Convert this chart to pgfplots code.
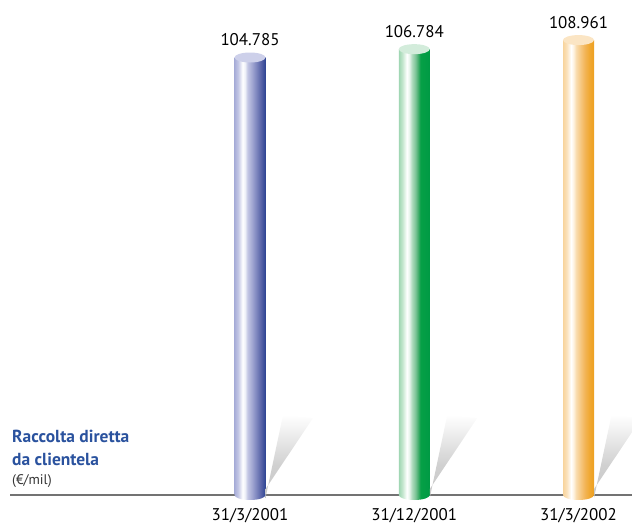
\documentclass[border=0pt]{standalone}
\usepackage{fontspec}
\setmainfont{PT Sans}
\usepackage{pgfplots}
\pgfplotsset{compat=1.18}

% colours of the three cylinders (left edge -> highlight -> dark right edge)
\definecolor{b0}{HTML}{A8AED8}\definecolor{b1}{HTML}{C4C8E6}\definecolor{b2}{HTML}{FFFFFF}
\definecolor{b3}{HTML}{EEF0F8}\definecolor{b4}{HTML}{C3C6E4}\definecolor{b5}{HTML}{A3A8D3}
\definecolor{b6}{HTML}{7F87BF}\definecolor{b7}{HTML}{5964A8}\definecolor{b8}{HTML}{2D4393}
\definecolor{g0}{HTML}{9FD6B2}\definecolor{g1}{HTML}{C4E6CE}\definecolor{g2}{HTML}{FFFFFF}
\definecolor{g3}{HTML}{E8F4EC}\definecolor{g4}{HTML}{B2DCC0}\definecolor{g5}{HTML}{7CC496}
\definecolor{g6}{HTML}{3AAA66}\definecolor{g7}{HTML}{06A046}\definecolor{g8}{HTML}{009A44}
\definecolor{o0}{HTML}{F8D49C}\definecolor{o1}{HTML}{FBE2BC}\definecolor{o2}{HTML}{FFFFFF}
\definecolor{o3}{HTML}{FEF2E0}\definecolor{o4}{HTML}{F9DDB0}\definecolor{o5}{HTML}{F6C882}
\definecolor{o6}{HTML}{F2B558}\definecolor{o7}{HTML}{F0A832}\definecolor{o8}{HTML}{EDA020}
\definecolor{capblue}{HTML}{CDD0EA}
\definecolor{capgreen}{HTML}{D3ECDB}
\definecolor{caporange}{HTML}{FBE5C4}
\definecolor{titleblue}{HTML}{2A529E}
\definecolor{shadowgray}{HTML}{C8C8C8}

\pgfdeclarehorizontalshading{cylblue}{100bp}{color(0bp)=(b0); color(25bp)=(b0);
  color(31bp)=(b1); color(38bp)=(b2); color(42bp)=(b3); color(46bp)=(b4);
  color(53bp)=(b5); color(60bp)=(b6); color(67.5bp)=(b7); color(75bp)=(b8); color(100bp)=(b8)}
\pgfdeclarehorizontalshading{cylgreen}{100bp}{color(0bp)=(g0); color(25bp)=(g0);
  color(31bp)=(g1); color(38bp)=(g2); color(42bp)=(g3); color(46bp)=(g4);
  color(52bp)=(g5); color(57bp)=(g6); color(60bp)=(g7); color(75bp)=(g8); color(100bp)=(g8)}
\pgfdeclarehorizontalshading{cylorange}{100bp}{color(0bp)=(o0); color(25bp)=(o0);
  color(31bp)=(o1); color(38bp)=(o2); color(42bp)=(o3); color(46bp)=(o4);
  color(53bp)=(o5); color(60bp)=(o6); color(67.5bp)=(o7); color(75bp)=(o8); color(100bp)=(o8)}
\pgfdeclareverticalshading{shadowfade}{100bp}{color(0bp)=(shadowgray); color(25bp)=(shadowgray);
  color(45bp)=(shadowgray!85); color(75bp)=(white); color(100bp)=(white)}

% cylinder parts drawn as plot marks at the data points
\newcommand\cylellipse{\pgfpathellipse{\pgfpointorigin}{\pgfpoint{15.5bp}{0bp}}{\pgfpoint{0bp}{5bp}}}
\pgfdeclareplotmark{cylshadow}{%
  \pgfpathmoveto{\pgfpoint{15.5bp}{-3bp}}%
  \pgfpathlineto{\pgfpoint{33bp}{80bp}}%
  \pgfpathlineto{\pgfpoint{63bp}{77bp}}%
  \pgfpathlineto{\pgfpoint{15.5bp}{6bp}}%
  \pgfpathclose
  \pgfshadepath{shadowfade}{0}\pgfusepath{discard}}
\pgfdeclareplotmark{botblue}{\cylellipse\pgfshadepath{cylblue}{0}\pgfusepath{discard}}
\pgfdeclareplotmark{botgreen}{\cylellipse\pgfshadepath{cylgreen}{0}\pgfusepath{discard}}
\pgfdeclareplotmark{botorange}{\cylellipse\pgfshadepath{cylorange}{0}\pgfusepath{discard}}
\pgfdeclareplotmark{topblue}{\pgfsetfillcolor{capblue}\cylellipse\pgfusepath{fill}}
\pgfdeclareplotmark{topgreen}{\pgfsetfillcolor{capgreen}\cylellipse\pgfusepath{fill}}
\pgfdeclareplotmark{toporange}{\pgfsetfillcolor{caporange}\cylellipse\pgfusepath{fill}}

\begin{document}
\begin{tikzpicture}
\begin{axis}[
  at={(0,0)}, anchor=south west,
  scale only axis, width=622bp, height=495bp,
  xmin=-1.4612, xmax=2.3257, ymin=0, ymax=118.56,
  axis x line*=bottom, axis y line=none,
  axis line style={draw=black!55, line width=1.2bp},
  xtick={0,1,2},
  xticklabels={31/3/2001,31/12/2001,31/3/2002},
  major tick length=0pt,
  xticklabel style={anchor=base, inner sep=0pt, yshift=-25bp,
    font=\fontsize{17}{17}\selectfont},
  clip=false,
  /pgf/number format/assume math mode=true,
  every node near coord/.append style={anchor=base, inner sep=0pt, yshift=12bp,
    font=\fontsize{17}{17}\selectfont, text=black},
]
% shadows cast behind the cylinders
\addplot[only marks, mark=cylshadow] coordinates {(0,0) (1,0) (2,0)};
% cylinder bodies
\addplot[ybar, bar width=31bp, bar shift=0pt, draw=none, shade, shading=cylblue]
  coordinates {(0,104.785)};
\addplot[ybar, bar width=31bp, bar shift=0pt, draw=none, shade, shading=cylgreen]
  coordinates {(1,106.784)};
\addplot[ybar, bar width=31bp, bar shift=0pt, draw=none, shade, shading=cylorange]
  coordinates {(2,108.961)};
% rounded bottoms
\addplot[only marks, mark=botblue] coordinates {(0,0)};
\addplot[only marks, mark=botgreen] coordinates {(1,0)};
\addplot[only marks, mark=botorange] coordinates {(2,0)};
% caps, with the values above them
\addplot[only marks, mark=topblue,
  nodes near coords={\pgfmathprintnumber[fixed,fixed zerofill,precision=3]{\pgfplotspointmeta}}]
  coordinates {(0,104.785)};
\addplot[only marks, mark=topgreen,
  nodes near coords={\pgfmathprintnumber[fixed,fixed zerofill,precision=3]{\pgfplotspointmeta}}]
  coordinates {(1,106.784)};
\addplot[only marks, mark=toporange,
  nodes near coords={\pgfmathprintnumber[fixed,fixed zerofill,precision=3]{\pgfplotspointmeta}}]
  coordinates {(2,108.961)};
\end{axis}
\node[anchor=base west, inner sep=0pt, text=titleblue,
  font=\bfseries\fontsize{17.5}{17.5}\selectfont] at (2bp,52bp) {Raccolta diretta};
\node[anchor=base west, inner sep=0pt, text=titleblue,
  font=\bfseries\fontsize{17.5}{17.5}\selectfont] at (2bp,30bp) {da clientela};
\node[anchor=base west, inner sep=0pt, text=black!80,
  font=\fontsize{14}{14}\selectfont] at (2bp,11bp) {(€/mil)};
\pgfresetboundingbox
\useasboundingbox (-10bp,-29bp) rectangle (622bp,495bp);
\end{tikzpicture}
\end{document}
